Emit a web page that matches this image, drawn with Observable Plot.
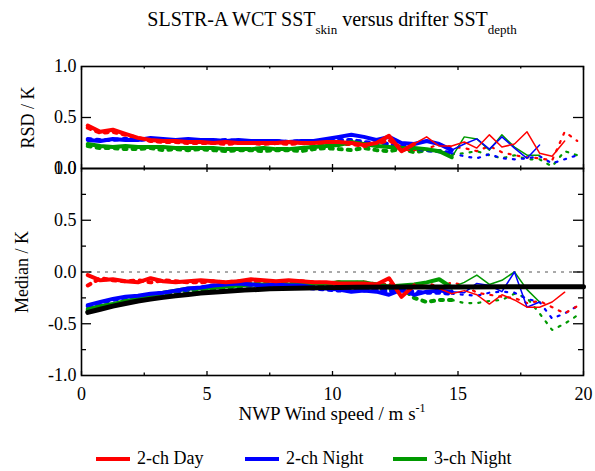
<!DOCTYPE html>
<html><head><meta charset="utf-8">
<script src="https://cdn.jsdelivr.net/npm/d3@7"></script>
<script src="https://cdn.jsdelivr.net/npm/@observablehq/plot@0.6"></script>
<style>
body{margin:0;background:#fff;overflow:hidden;font-family:"Liberation Serif","DejaVu Serif",serif;color:#000;}
#chart{position:relative;width:595px;height:471px;}
#chart svg{position:absolute;left:0;top:0;font-family:"Liberation Serif","DejaVu Serif",serif;}
.title{position:absolute;top:9px;left:332px;transform:translateX(-50%);white-space:nowrap;font-size:20px;line-height:20px;}
.sub{font-size:13px;position:relative;top:8px;}
.xtitle{position:absolute;top:405px;left:332px;transform:translateX(-50%);white-space:nowrap;font-size:19px;line-height:17px;}
.sup{font-size:12px;position:relative;top:-8px;}
.legend{position:absolute;top:448px;left:0;width:595px;height:22px;font-size:18px;line-height:20px;}
.item{position:absolute;top:0;white-space:nowrap;}
.swatch{display:inline-block;width:34px;height:4px;vertical-align:middle;margin-right:7px;position:relative;top:-1px;}
</style></head>
<body><div id="chart"></div>
<script>
// ---- data ----
const windBins = [0.25,0.75,1.25,1.75,2.25,2.75,3.25,3.75,4.25,4.75,5.25,5.75,6.25,6.75,7.25,7.75,8.25,8.75,9.25,9.75,10.25,10.75,11.25,11.75,12.25,12.75,13.25,13.75,14.25,14.75,15.25,15.75,16.25,16.75,17.25,17.75,18.25,18.75,19.25,19.75];

const seriesNames = ["2-ch Day", "2-ch Night", "3-ch Night"];

// RSD panel, solid lines
const rsdDay    = [0.42,0.36,0.38,0.34,0.30,0.28,0.27,0.27,0.26,0.26,0.25,0.26,0.25,0.25,0.25,0.25,0.26,0.25,0.25,0.26,0.26,0.25,0.23,0.25,0.32,0.17,0.24,0.31,0.22,0.22,0.26,0.20,0.33,0.21,0.24,0.36,0.15,0.12,0.27,null];
const rsdNight2 = [0.28,0.27,0.29,0.28,0.28,0.30,0.29,0.28,0.29,0.28,0.28,0.27,0.28,0.27,0.27,0.27,0.26,0.27,0.27,0.29,0.31,0.33,0.31,0.28,0.31,0.25,0.24,0.27,0.24,0.18,0.24,0.29,0.19,0.31,0.20,0.10,0.23,null,null,null];
const rsdNight3 = [0.24,0.22,0.21,0.22,0.21,0.21,0.21,0.20,0.20,0.20,0.20,0.19,0.19,0.19,0.20,0.19,0.19,0.20,0.21,0.22,0.23,0.26,0.24,0.22,0.21,0.20,0.20,0.19,0.17,0.11,0.31,0.29,0.18,0.33,0.21,0.13,0.13,null,null,null];
// RSD panel, dotted lines
const rsdDayDot    = [0.40,0.35,0.36,0.33,0.30,0.27,0.26,0.26,0.25,0.25,0.25,0.24,0.25,0.25,0.24,0.25,0.24,0.25,0.24,0.25,0.24,0.24,0.22,0.24,0.28,0.20,0.18,0.19,0.24,0.21,0.20,0.17,0.22,0.16,0.13,0.11,0.10,0.08,0.36,0.27];
const rsdNight2Dot = [0.29,0.28,0.28,0.29,0.28,0.29,0.28,0.28,0.27,0.28,0.27,0.28,0.27,0.27,0.26,0.27,0.26,0.27,0.26,0.27,0.28,0.28,0.26,0.25,0.24,0.22,0.20,0.18,0.17,0.15,0.12,0.10,0.14,0.10,0.09,0.10,0.12,0.05,0.09,0.13];
const rsdNight3Dot = [0.22,0.20,0.20,0.19,0.19,0.20,0.18,0.19,0.18,0.19,0.18,0.17,0.18,0.18,0.17,0.18,0.18,0.17,0.19,0.20,0.19,0.18,0.20,0.18,0.17,0.19,0.16,0.18,0.17,0.14,0.15,0.17,0.13,0.10,0.13,0.09,0.09,0.02,0.17,0.13];

// Median panel, solid lines
const medDay    = [-0.03,-0.08,-0.07,-0.09,-0.10,-0.06,-0.09,-0.10,-0.09,-0.08,-0.09,-0.10,-0.09,-0.07,-0.08,-0.09,-0.08,-0.09,-0.10,-0.10,-0.11,-0.11,-0.11,-0.12,-0.06,-0.24,-0.13,-0.13,-0.16,-0.21,-0.18,-0.22,-0.31,-0.22,-0.27,-0.34,-0.34,-0.29,-0.195,null];
const medNight2 = [-0.32,-0.29,-0.26,-0.24,-0.23,-0.21,-0.20,-0.18,-0.16,-0.15,-0.13,-0.12,-0.11,-0.12,-0.13,-0.12,-0.13,-0.13,-0.15,-0.16,-0.17,-0.19,-0.18,-0.19,-0.22,-0.17,-0.22,-0.19,-0.18,-0.19,-0.20,-0.11,-0.13,-0.19,0.0,-0.34,-0.29,null,null,null];
const medNight3 = [-0.36,-0.33,-0.31,-0.28,-0.26,-0.23,-0.20,-0.18,-0.16,-0.16,-0.15,-0.14,-0.13,-0.12,-0.12,-0.12,-0.12,-0.12,-0.11,-0.11,-0.10,-0.10,-0.10,-0.12,-0.14,-0.13,-0.12,-0.10,-0.07,-0.15,-0.10,-0.03,-0.12,-0.08,0.0,-0.17,-0.29,null,null,null];
// Median panel, dotted lines
const medDayDot    = [-0.13,-0.06,-0.08,-0.09,-0.08,-0.10,-0.08,-0.09,-0.10,-0.10,-0.09,-0.10,-0.09,-0.10,-0.09,-0.10,-0.10,-0.09,-0.10,-0.11,-0.10,-0.11,-0.10,-0.12,-0.12,-0.14,-0.12,-0.10,-0.15,-0.10,-0.13,-0.20,-0.22,-0.24,-0.25,-0.30,-0.28,-0.34,-0.40,-0.33];
const medNight2Dot = [-0.33,-0.30,-0.27,-0.25,-0.24,-0.22,-0.20,-0.19,-0.17,-0.15,-0.14,-0.13,-0.12,-0.13,-0.14,-0.13,-0.14,-0.15,-0.16,-0.17,-0.18,-0.17,-0.18,-0.17,-0.19,-0.18,-0.19,-0.20,-0.20,-0.21,-0.22,-0.23,-0.20,-0.19,-0.20,-0.26,-0.29,-0.45,-0.40,-0.33];
const medNight3Dot = [-0.38,-0.35,-0.32,-0.30,-0.28,-0.25,-0.22,-0.20,-0.18,-0.17,-0.16,-0.15,-0.14,-0.13,-0.13,-0.13,-0.13,-0.12,-0.12,-0.13,-0.13,-0.14,-0.14,-0.16,-0.18,-0.15,-0.25,-0.29,-0.27,-0.27,-0.30,-0.30,-0.28,-0.27,-0.21,-0.25,-0.40,-0.56,-0.50,-0.42];

// Black reference curve (median panel)
const skinWind   = [0.25,0.75,1.25,1.75,2.25,2.75,3.25,3.75,4.25,4.75,5.5,6.5,7.5,8.5,9.5,11,13,15,17,19,20];
const skinMedian = [-0.39,-0.36,-0.33,-0.305,-0.28,-0.262,-0.245,-0.23,-0.217,-0.204,-0.19,-0.175,-0.163,-0.156,-0.151,-0.147,-0.145,-0.144,-0.143,-0.143,-0.143];

// Axis ticks
const windMajorTicks = [0,5,10,15,20];
const windMinorTicks = [2.5,7.5,12.5,17.5];
const rsdTicks = [0,0.5,1];
const medTicks = [-1,-0.5,0,0.5,1];
const medMinorTicks = [-0.75,-0.25,0.25,0.75];

// ---- drawing ----
const colors = ["#ff0000", "#0000ff", "#009900"];
const thinFrom = [13.25, 14.75, 14.75];

function table(values) {
  return windBins.map((x, i) => ({x, y: values[i]})).filter(d => d.y != null);
}

function seriesMarks(solid, dotted) {
  const marks = [];
  for (const i of [2, 1, 0]) {
    const t = table(dotted[i]);
    marks.push(Plot.line(t.filter(d => d.x <= thinFrom[i]), {x: "x", y: "y", stroke: colors[i], strokeWidth: 4, strokeDasharray: "3,6"}));
    marks.push(Plot.line(t.filter(d => d.x >= thinFrom[i]), {x: "x", y: "y", stroke: colors[i], strokeWidth: 2.2, strokeDasharray: "2,7"}));
  }
  for (const i of [2, 1, 0]) {
    const t = table(solid[i]);
    marks.push(Plot.line(t.filter(d => d.x <= thinFrom[i]), {x: "x", y: "y", stroke: colors[i], strokeWidth: 4}));
    marks.push(Plot.line(t.filter(d => d.x >= thinFrom[i]), {x: "x", y: "y", stroke: colors[i], strokeWidth: 1.5}));
  }
  return marks;
}

function tickMarks(yDomain, innerH, yMajor, yMinor) {
  const k = (yDomain[1] - yDomain[0]) / innerH;
  const kx = 20 / 502;
  const y0 = yDomain[0], y1 = yDomain[1];
  const st = {stroke: "black", strokeWidth: 1.3};
  return [
    Plot.ruleY(yMajor, {y: d => d, x1: 0, x2: 10 * kx, ...st}),
    Plot.ruleY(yMajor, {y: d => d, x1: 20 - 10 * kx, x2: 20, ...st}),
    Plot.ruleY(yMinor, {y: d => d, x1: 0, x2: 5 * kx, ...st}),
    Plot.ruleY(yMinor, {y: d => d, x1: 20 - 5 * kx, x2: 20, ...st}),
    Plot.ruleX(windMajorTicks, {x: d => d, y1: y0, y2: y0 + 4 * k, ...st}),
    Plot.ruleX(windMajorTicks, {x: d => d, y1: y1 - 4 * k, y2: y1, ...st}),
    Plot.ruleX(windMinorTicks, {x: d => d, y1: y0, y2: y0 + 2.5 * k, ...st}),
    Plot.ruleX(windMinorTicks, {x: d => d, y1: y1 - 2.5 * k, y2: y1, ...st})
  ];
}

const baseStyle = "background: transparent; overflow: visible; font-family: 'Liberation Serif', 'DejaVu Serif', serif; font-size: 18px; color: black;";

const rsdPlot = Plot.plot({
  width: 595, height: 471,
  marginLeft: 81, marginRight: 12, marginTop: 66, marginBottom: 303,
  style: baseStyle,
  x: {domain: [0, 20], axis: null},
  y: {domain: [0, 1], ticks: rsdTicks, tickSize: 0, tickPadding: 5, tickFormat: d => d.toFixed(1),
      label: "RSD / K", labelAnchor: "center", labelOffset: 60, labelArrow: "none"},
  marks: [
    ...seriesMarks([rsdDay, rsdNight2, rsdNight3], [rsdDayDot, rsdNight2Dot, rsdNight3Dot]),
    ...tickMarks([0, 1], 102, [0.5], []),
    Plot.frame({stroke: "black", strokeWidth: 1.6})
  ]
});

const medPlot = Plot.plot({
  width: 595, height: 471,
  marginLeft: 81, marginRight: 12, marginTop: 168, marginBottom: 96,
  style: baseStyle,
  x: {domain: [0, 20], ticks: windMajorTicks, tickSize: 0, tickPadding: 12, tickFormat: d => String(d), label: null},
  y: {domain: [-1, 1], ticks: medTicks, tickSize: 0, tickPadding: 5, tickFormat: d => d.toFixed(1),
      label: "Median / K", labelAnchor: "center", labelOffset: 66, labelArrow: "none"},
  marks: [
    Plot.ruleY([0], {stroke: "#555", strokeWidth: 1, strokeDasharray: "3,5"}),
    ...seriesMarks([medDay, medNight2, medNight3], [medDayDot, medNight2Dot, medNight3Dot]),
    Plot.line(skinWind.map((x, i) => ({x, y: skinMedian[i]})), {x: "x", y: "y", stroke: "black", strokeWidth: 5}),
    ...tickMarks([-1, 1], 207, [-0.5, 0, 0.5], medMinorTicks),
    Plot.frame({stroke: "black", strokeWidth: 1.6})
  ]
});

const chart = document.getElementById("chart");
chart.append(medPlot, rsdPlot);

const titleDiv = document.createElement("div");
titleDiv.className = "title";
titleDiv.innerHTML = 'SLSTR-A WCT SST<span class="sub">skin</span> versus drifter SST<span class="sub">depth</span>';
chart.append(titleDiv);

const xt = document.createElement("div");
xt.className = "xtitle";
xt.innerHTML = 'NWP Wind speed / m s<span class="sup">-1</span>';
chart.append(xt);

const legend = document.createElement("div");
legend.className = "legend";
const legendLeft = [96, 245, 393];
seriesNames.forEach((name, i) => {
  const it = document.createElement("div");
  it.className = "item";
  it.style.left = legendLeft[i] + "px";
  it.innerHTML = `<span class="swatch" style="background:${colors[i]}"></span>${name}`;
  legend.append(it);
});
chart.append(legend);
</script>
</body></html>
